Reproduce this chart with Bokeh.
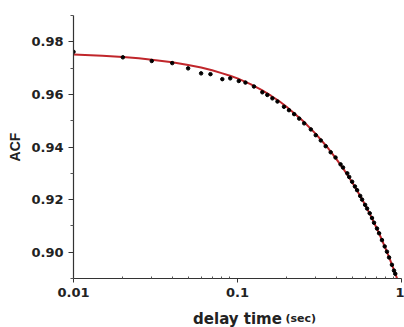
from bokeh.plotting import figure
from bokeh.layouts import column
from bokeh.models import FixedTicker, CustomJSTickFormatter, NumeralTickFormatter
from bokeh.core.properties import value
from bokeh.embed import file_html
from bokeh.resources import INLINE

# fitted curve (red)
fit_t = [0.01, 0.015, 0.02, 0.025, 0.03, 0.04, 0.05, 0.06, 0.07, 0.08, 0.09, 0.1,
         0.12, 0.14, 0.16, 0.18, 0.2, 0.25, 0.3, 0.35, 0.4, 0.45, 0.5, 0.55, 0.6,
         0.65, 0.7, 0.75, 0.8, 0.85, 0.9, 0.95]
fit_acf = [0.9752, 0.9747, 0.9742, 0.9737, 0.9732, 0.9722, 0.9712, 0.9702, 0.9692,
           0.9681, 0.9671, 0.9661, 0.9639, 0.9617, 0.9595, 0.9574, 0.9552, 0.9500,
           0.9450, 0.9402, 0.9355, 0.9310, 0.9266, 0.9222, 0.9180, 0.9138, 0.9096,
           0.9055, 0.9014, 0.8973, 0.8932, 0.8892]

# measured points (black)
data_t = [0.01, 0.02, 0.03, 0.04, 0.05, 0.06, 0.0684, 0.0808, 0.0903, 0.1018, 0.1118,
          0.126, 0.1417, 0.152, 0.1632, 0.1752, 0.192, 0.206, 0.2216, 0.2378, 0.255,
          0.28, 0.30, 0.322, 0.345, 0.37, 0.396, 0.425, 0.44, 0.467, 0.48, 0.50, 0.52,
          0.536, 0.56, 0.575, 0.60, 0.617, 0.64, 0.661, 0.68, 0.709, 0.73, 0.76, 0.79,
          0.815, 0.84, 0.874, 0.90, 0.916, 0.95]
data_acf = [0.9762, 0.9741, 0.9727, 0.9719, 0.9699, 0.9680, 0.9677, 0.9658, 0.9661,
            0.9651, 0.9645, 0.9630, 0.9608, 0.9598, 0.9585, 0.9573, 0.9553, 0.9540,
            0.9525, 0.9508, 0.9490, 0.9467, 0.9445, 0.9425, 0.9403, 0.9380, 0.9360,
            0.9334, 0.9322, 0.9300, 0.9286, 0.9268, 0.9250, 0.9236, 0.9214, 0.9200,
            0.9180, 0.9166, 0.9148, 0.9130, 0.9112, 0.9090, 0.9072, 0.9046, 0.9022,
            0.9002, 0.8980, 0.8952, 0.8930, 0.8918, 0.8890]

x_ticks = [0.01, 0.1, 1]
x_minor = [0.02, 0.03, 0.04, 0.05, 0.06, 0.07, 0.08, 0.09,
           0.2, 0.3, 0.4, 0.5, 0.6, 0.7, 0.8, 0.9]
y_ticks = [0.90, 0.92, 0.94, 0.96, 0.98]
y_minor = [0.89, 0.91, 0.93, 0.95, 0.97, 0.99]

# x-axis title pieces
title_texts = ["delay time", "(sec)"]
title_pos = [0.1, 0.196]

p = figure(width=404, height=306, x_axis_type="log", x_range=(0.01, 1), y_range=(0.89, 0.99),
           output_backend="svg", toolbar_location=None,
           min_border_left=73, min_border_right=3, min_border_top=15, min_border_bottom=28)
p.outline_line_color = None
p.xgrid.visible = False
p.ygrid.visible = False
p.background_fill_color = "white"
p.border_fill_color = "white"

p.line(fit_t, fit_acf, line_color="#c0262b", line_width=2)
p.scatter(data_t, data_acf, size=3.5, color="black")

# x axis
xa = p.xaxis[0]
xa.ticker = FixedTicker(ticks=x_ticks, minor_ticks=x_minor)
xa.formatter = CustomJSTickFormatter(code="return tick.toString();")
xa.major_label_text_font = "DejaVu Sans"
xa.major_label_text_font_style = "bold"
xa.major_label_text_font_size = "13px"
xa.major_label_text_color = "#222222"
xa.major_label_standoff = 5
xa.major_tick_out = 4
xa.major_tick_in = 0
xa.minor_tick_out = 0
xa.minor_tick_in = 2
xa.axis_line_color = "#333333"
xa.axis_line_width = 1.2
xa.major_tick_line_color = "#333333"
xa.minor_tick_line_color = "#555555"

# y axis
ya = p.yaxis[0]
ya.ticker = FixedTicker(ticks=y_ticks, minor_ticks=y_minor)
ya.formatter = NumeralTickFormatter(format="0.00")
ya.major_label_text_font = "DejaVu Sans"
ya.major_label_text_font_style = "bold"
ya.major_label_text_font_size = "13px"
ya.major_label_text_color = "#222222"
ya.major_label_standoff = 5
ya.major_tick_out = 5
ya.major_tick_in = 0
ya.minor_tick_out = 3
ya.minor_tick_in = 0
ya.axis_line_color = "#333333"
ya.axis_line_width = 1.2
ya.major_tick_line_color = "#333333"
ya.minor_tick_line_color = "#555555"
ya.axis_label = "ACF"
ya.axis_label_text_font = "Liberation Sans"
ya.axis_label_text_font_style = "bold"
ya.axis_label_text_font_size = "14px"
ya.axis_label_text_color = "#222222"
ya.axis_label_standoff = 5

# strip below holding the x-axis title (shares the x scale)
t = figure(width=404, height=21, x_axis_type="log", x_range=p.x_range, y_range=(0, 1),
           output_backend="svg", toolbar_location=None,
           x_axis_location=None, y_axis_location=None,
           min_border_left=73, min_border_right=3, min_border_top=0, min_border_bottom=0)
t.outline_line_color = None
t.xgrid.visible = False
t.ygrid.visible = False
t.background_fill_color = "white"
t.border_fill_color = "white"
t.text(x=title_pos[:1], y=[0.42], text=title_texts[:1], text_align="center",
       text_baseline="alphabetic", text_font=value("DejaVu Sans"),
       text_font_style="bold", text_font_size="15px", text_color="#222222")
t.text(x=title_pos[1:], y=[0.42], text=title_texts[1:], text_align="left",
       text_baseline="alphabetic", text_font=value("DejaVu Sans"),
       text_font_style="bold", text_font_size="11px", text_color="#222222")

layout = column(p, t, spacing=0)
open("out.html", "w").write(file_html(layout, INLINE))
